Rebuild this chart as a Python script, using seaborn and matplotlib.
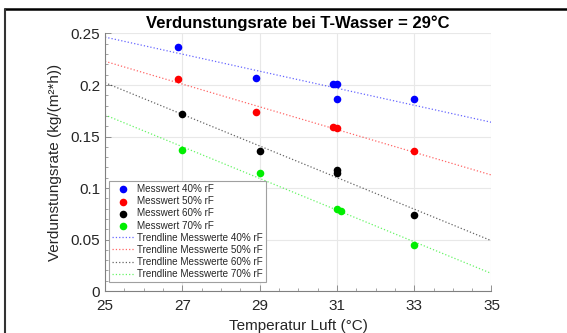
import matplotlib
matplotlib.use("Agg")
import matplotlib.pyplot as plt
from matplotlib.lines import Line2D
from matplotlib.ticker import MultipleLocator, FormatStrFormatter
import seaborn as sns

# --- Messwerte ---
t_40 = [26.9, 28.9, 30.9, 31.0, 31.0, 33.0]
v_40 = [0.237, 0.2065, 0.2005, 0.2005, 0.186, 0.186]
t_50 = [26.9, 28.9, 30.9, 31.0, 33.0]
v_50 = [0.206, 0.1735, 0.1595, 0.158, 0.136]
t_60 = [27.0, 29.0, 31.0, 31.0, 33.0]
v_60 = [0.172, 0.1355, 0.1175, 0.1145, 0.0735]
t_70 = [27.0, 29.0, 31.0, 31.1, 33.0]
v_70 = [0.1365, 0.1145, 0.0795, 0.078, 0.0445]

# Trendlinien (Endpunkte bei 25 und 35 °C)
trend_t = [25, 35]
trend_40 = [0.2465, 0.1638]
trend_50 = [0.2230, 0.1126]
trend_60 = [0.2022, 0.0488]
trend_70 = [0.1709, 0.0170]

labels = ["40% rF", "50% rF", "60% rF", "70% rF"]
farben = ["#0000ff", "#ff0000", "#000000", "#00ee00"]
x_ticks = [25, 27, 29, 31, 33, 35]

sns.set_theme(style="whitegrid")
plt.rcParams['font.family'] = ['Liberation Sans', 'DejaVu Sans']

fig = plt.figure(figsize=(5.67, 3.33), dpi=100)
ax = fig.add_axes([0.1852, 0.1261, 0.6816, 0.7733])

messwerte = [(t_40, v_40), (t_50, v_50), (t_60, v_60), (t_70, v_70)]
trends = [trend_40, trend_50, trend_60, trend_70]

for (t, v), lab, col in zip(messwerte, labels, farben):
    sns.scatterplot(x=t, y=v, ax=ax, color=col, s=30, edgecolor=col, linewidth=0,
                    label=f"Messwert {lab}", zorder=3)

for tr, lab, col in zip(trends, labels, farben):
    sns.lineplot(x=trend_t, y=tr, ax=ax, color=col, linestyle=":", linewidth=0.9,
                 alpha=0.6, label=f"Trendline Messwerte {lab}", zorder=2)

ax.set_xlim(25, 35)
ax.set_ylim(0, 0.25)
ax.set_xticks(x_ticks)
ax.xaxis.set_minor_locator(MultipleLocator(0.5))
ax.yaxis.set_major_locator(MultipleLocator(0.05))
ax.yaxis.set_minor_locator(MultipleLocator(0.01))
ax.yaxis.set_major_formatter(FormatStrFormatter('%g'))

ax.grid(True, which='major', color='#e8e8e8', linewidth=0.8)
ax.grid(False, which='minor')
ax.set_facecolor('white')
for s in ['top', 'right']:
    ax.spines[s].set_visible(False)
for s in ['left', 'bottom']:
    ax.spines[s].set_visible(True)
    ax.spines[s].set_color('#808080')
    ax.spines[s].set_linewidth(0.8)

ax.tick_params(which='both', direction='in', colors='#808080', labelcolor='#262626',
               labelsize=11)
ax.tick_params(which='major', length=4, width=0.6, bottom=True, left=True)
ax.tick_params(which='minor', length=2, width=0.5, bottom=True, left=True)
ax.tick_params(axis='x', pad=6)

ax.set_xlabel("Temperatur Luft (°C)", fontsize=11, color='#262626', labelpad=4)
ax.set_ylabel("Verdunstungsrate (kg/(m²*h))", fontsize=11, color='#262626', labelpad=6)
ax.set_title("Verdunstungsrate bei T-Wasser = 29°C", fontsize=12, fontweight='bold',
             color='black', pad=4)

leg = ax.legend(loc='lower left', bbox_to_anchor=(-0.002, 0.015), fontsize=7.1,
                frameon=True, fancybox=False, framealpha=1, edgecolor='#a0a0a0',
                borderpad=0.3, labelspacing=0.22, handlelength=2.3, handletextpad=0.25)
leg.get_frame().set_linewidth(0.8)

# Rahmen der Abbildung (oben und links)
fig.add_artist(Line2D([5 / 567, 1], [1 - 9 / 333, 1 - 9 / 333], color='black',
                      linewidth=1.8, transform=fig.transFigure))
fig.add_artist(Line2D([5 / 567, 5 / 567], [0, 1 - 9 / 333], color='#333333',
                      linewidth=1.5, transform=fig.transFigure))

fig.savefig("out.png", dpi=100)
